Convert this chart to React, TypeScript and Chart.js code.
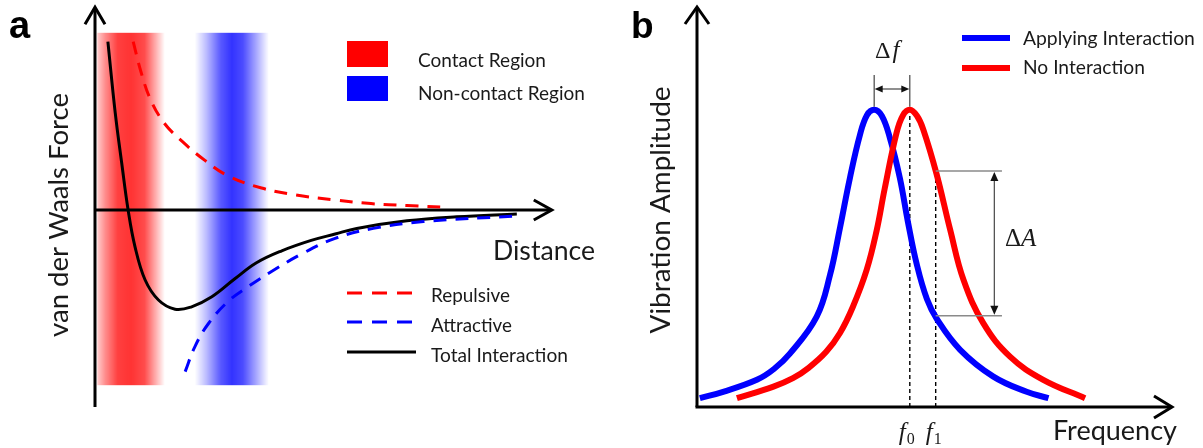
import React, { useEffect, useRef } from "react";
import { Chart, registerables } from "chart.js";
Chart.register(...registerables);

// ---------------- Panel a data (distance vs. van der Waals force, arbitrary units)
const distTotal = [0.28, 0.44, 0.58, 0.72, 0.87, 1.09, 1.38, 1.74, 2.1, 2.54, 3.04, 3.51, 4.06, 4.7, 5.22, 5.69, 6.78, 7.86, 9.17];
const forceTotal = [4.21, 2.43, 1.18, 0, -0.92, -1.75, -2.25, -2.48, -2.42, -2.17, -1.72, -1.32, -1.02, -0.76, -0.6, -0.46, -0.27, -0.17, -0.1];
const distRepulsive = [0.83, 1.0, 1.2, 1.5, 1.89, 2.39, 2.9, 3.62, 4.35, 5.22, 6.0, 6.78, 7.65];
const forceRepulsive = [4.21, 3.45, 2.78, 2.18, 1.72, 1.24, 0.85, 0.55, 0.38, 0.25, 0.16, 0.11, 0.07];
const distAttractive = [1.96, 2.17, 2.46, 2.9, 3.35, 3.82, 4.49, 5.22, 6.05, 7.14, 9.2];
const forceAttractive = [-4.04, -3.42, -2.85, -2.28, -1.9, -1.55, -1.1, -0.71, -0.46, -0.29, -0.15];
const contactRegion = [0.05, 1.52];
const nonContactRegion = [2.17, 3.78];
const regionForceSpan = [-4.38, 4.43];
const axisAForce = [-4.925, 5.07];
const axisADistTip = 9.93;

// ---------------- Panel b data (frequency vs. vibration amplitude, arbitrary units)
const freqApplying = [0.06, 0.55, 1.26, 1.62, 1.96, 2.52, 2.8, 3.01, 3.22, 3.43, 3.58, 3.73, 3.89, 4.06, 4.27, 4.44, 4.63, 4.84, 5.05, 5.54, 6.24, 6.94, 7.4];
const ampApplying = [0.22, 0.38, 0.68, 0.95, 1.34, 2.26, 3.3, 4.48, 5.73, 6.8, 7.3, 7.43, 7.28, 6.73, 5.73, 4.63, 3.55, 2.7, 2.2, 1.43, 0.76, 0.38, 0.22];
const freqNo = [0.84, 1.61, 2.02, 2.35, 2.72, 3.01, 3.28, 3.57, 3.78, 3.95, 4.2, 4.34, 4.48, 4.63, 4.76, 5.04, 5.33, 5.61, 6.03, 6.59, 7.29, 8.17];
const ampNo = [0.22, 0.51, 0.72, 0.98, 1.38, 1.85, 2.5, 3.42, 4.4, 5.45, 6.85, 7.3, 7.43, 7.28, 6.95, 5.84, 4.43, 3.18, 2.09, 1.26, 0.68, 0.22];
const f0 = 4.48;
const f1 = 5.025;
const fPeakApplying = 3.73;
const peakAmp = 7.43;
const ampNoAtF1 = 5.9;
const ampApplyingAtF1 = 2.28;
const deltaFLevel = 7.95;
const deltaFTickTop = 8.3;
const deltaARight = 6.42;
const deltaAArrowX = 6.26;

// ---------------- Labels
const titleA = "a";
const titleB = "b";
const yTitleA = "van der Waals Force";
const xTitleA = "Distance";
const regionLabels = ["Contact Region", "Non-contact Region"];
const curveLabelsA = ["Repulsive", "Attractive", "Total Interaction"];
const yTitleB = "Vibration Amplitude";
const xTitleB = "Frequency";
const curveLabelsB = ["Applying Interaction", "No Interaction"];

const SANS = "Lato, 'Open Sans', sans-serif";
const SERIF = "'Liberation Serif', 'DejaVu Serif', serif";
const BOLD = "'Liberation Sans', Arial, sans-serif";
const RED = "#ff0000";
const BLUE = "#0000ff";

const zip = (xs: number[], ys: number[]) => xs.map((x, i) => ({ x, y: ys[i] }));

function fitFont(ctx: CanvasRenderingContext2D, text: string, width: number, family: string, style = "normal", weight = "normal") {
  ctx.font = `${style} ${weight} 100px ${family}`;
  const w = ctx.measureText(text).width;
  const size = (100 * width) / w;
  ctx.font = `${style} ${weight} ${size.toFixed(2)}px ${family}`;
}

function textFit(ctx: CanvasRenderingContext2D, text: string, x: number, y: number, width: number, family = SANS, color = "#1a1a1a") {
  fitFont(ctx, text, width, family);
  ctx.fillStyle = color;
  ctx.textAlign = "left";
  ctx.textBaseline = "alphabetic";
  ctx.fillText(text, x, y);
}

function rotatedText(ctx: CanvasRenderingContext2D, text: string, x: number, cy: number, width: number) {
  ctx.save();
  ctx.translate(x, cy);
  ctx.rotate(-Math.PI / 2);
  fitFont(ctx, text, width, SANS);
  ctx.fillStyle = "#1a1a1a";
  ctx.textAlign = "center";
  ctx.textBaseline = "alphabetic";
  ctx.fillText(text, 0, 0);
  ctx.restore();
}

function openArrow(ctx: CanvasRenderingContext2D, x: number, y: number, dir: "up" | "right", back: number, side: number) {
  ctx.beginPath();
  if (dir === "up") {
    ctx.moveTo(x - side, y + back);
    ctx.lineTo(x, y);
    ctx.lineTo(x + side, y + back);
  } else {
    ctx.moveTo(x - back, y - side);
    ctx.lineTo(x, y);
    ctx.lineTo(x - back, y + side);
  }
  ctx.stroke();
}

function filledHead(ctx: CanvasRenderingContext2D, x: number, y: number, dx: number, dy: number, len: number, half: number) {
  const px = -dy, py = dx;
  ctx.beginPath();
  ctx.moveTo(x, y);
  ctx.lineTo(x - dx * len + px * half, y - dy * len + py * half);
  ctx.lineTo(x - dx * len - px * half, y - dy * len - py * half);
  ctx.closePath();
  ctx.fill();
}

function band(ctx: CanvasRenderingContext2D, x0: number, x1: number, y0: number, y1: number, rgb: string, stops: number[][]) {
  const g = ctx.createLinearGradient(x0, 0, x1, 0);
  stops.forEach(([o, a]) => g.addColorStop(o, `rgba(${rgb},${a})`));
  ctx.fillStyle = g;
  ctx.fillRect(x0, y0, x1 - x0, y1 - y0);
}

function hLine(ctx: CanvasRenderingContext2D, x0: number, x1: number, y: number, color: string, width: number, dash: number[] = []) {
  ctx.save();
  ctx.strokeStyle = color;
  ctx.lineWidth = width;
  ctx.setLineDash(dash);
  ctx.beginPath();
  ctx.moveTo(x0, y);
  ctx.lineTo(x1, y);
  ctx.stroke();
  ctx.restore();
}

function vLine(ctx: CanvasRenderingContext2D, x: number, y0: number, y1: number, color: string, width: number, dash: number[] = []) {
  ctx.save();
  ctx.strokeStyle = color;
  ctx.lineWidth = width;
  ctx.setLineDash(dash);
  ctx.beginPath();
  ctx.moveTo(x, y0);
  ctx.lineTo(x, y1);
  ctx.stroke();
  ctx.restore();
}

const panelAPlugin = {
  id: "panelA",
  beforeDatasetsDraw(chart: any) {
    const { ctx, scales } = chart;
    const sx = scales.x, sy = scales.y;
    ctx.save();
    const top = sy.getPixelForValue(regionForceSpan[1]);
    const bot = sy.getPixelForValue(regionForceSpan[0]);
    band(ctx, sx.getPixelForValue(contactRegion[0]), sx.getPixelForValue(contactRegion[1]), top, bot, "255,0,0",
      [[0, 0.2], [0.12, 0.45], [0.3, 0.75], [0.5, 0.8], [0.7, 0.7], [0.85, 0.35], [1, 0]]);
    band(ctx, sx.getPixelForValue(nonContactRegion[0]), sx.getPixelForValue(nonContactRegion[1]), top, bot, "0,0,255",
      [[0, 0], [0.15, 0.25], [0.35, 0.65], [0.5, 0.8], [0.65, 0.7], [0.85, 0.3], [1, 0]]);
    // axes
    ctx.strokeStyle = "#000";
    ctx.lineWidth = 3;
    ctx.lineJoin = "miter";
    const x0 = sx.getPixelForValue(0);
    const y0 = sy.getPixelForValue(0);
    const yTip = sy.getPixelForValue(axisAForce[1]);
    const xTip = sx.getPixelForValue(axisADistTip);
    ctx.beginPath();
    ctx.moveTo(x0, sy.getPixelForValue(axisAForce[0]));
    ctx.lineTo(x0, yTip + 1);
    ctx.stroke();
    openArrow(ctx, x0, yTip, "up", 17, 10);
    ctx.beginPath();
    ctx.moveTo(x0, y0);
    ctx.lineTo(xTip - 1, y0);
    ctx.stroke();
    openArrow(ctx, xTip, y0, "right", 18, 10);
    ctx.restore();
  },
  afterDraw(chart: any) {
    const { ctx } = chart;
    ctx.save();
    ctx.font = `bold 38px ${BOLD}`;
    ctx.fillStyle = "#000";
    ctx.textAlign = "left";
    ctx.textBaseline = "alphabetic";
    ctx.fillText(titleA, 9, 38);
    rotatedText(ctx, yTitleA, 68, 215, 244);
    textFit(ctx, xTitleA, 493, 260, 102);
    // region legend
    ctx.fillStyle = RED;
    ctx.fillRect(347, 41, 41, 26);
    ctx.fillStyle = BLUE;
    ctx.fillRect(347, 76, 41, 25);
    textFit(ctx, regionLabels[0], 418, 67, 128);
    textFit(ctx, regionLabels[1], 418, 100, 167);
    // curve legend
    hLine(ctx, 347, 412, 293, RED, 3, [15, 10]);
    hLine(ctx, 347, 412, 322, BLUE, 3, [15, 10]);
    hLine(ctx, 347, 416, 352, "#000", 3);
    textFit(ctx, curveLabelsA[0], 431, 302, 79);
    textFit(ctx, curveLabelsA[1], 431, 332, 81);
    textFit(ctx, curveLabelsA[2], 431, 362, 137);
    ctx.restore();
  },
};

const panelBPlugin = {
  id: "panelB",
  beforeDatasetsDraw(chart: any) {
    const { ctx, scales } = chart;
    const sx = scales.x, sy = scales.y;
    ctx.save();
    const x0 = sx.getPixelForValue(0);
    const y0 = sy.getPixelForValue(0);
    const xTip = sx.getPixelForValue(10);
    const yTip = sy.getPixelForValue(10);
    // dashed guides
    vLine(ctx, sx.getPixelForValue(f0), y0, sy.getPixelForValue(peakAmp) + 4, "#000", 1.4, [4, 3]);
    vLine(ctx, sx.getPixelForValue(f1), y0, sy.getPixelForValue(ampNoAtF1), "#000", 1.4, [4, 3]);
    // axes
    ctx.strokeStyle = "#000";
    ctx.lineWidth = 3;
    ctx.beginPath();
    ctx.moveTo(x0, y0);
    ctx.lineTo(x0, yTip + 1);
    ctx.stroke();
    openArrow(ctx, x0, yTip, "up", 17, 12);
    ctx.beginPath();
    ctx.moveTo(x0 - 1.5, y0);
    ctx.lineTo(xTip - 1, y0);
    ctx.stroke();
    openArrow(ctx, xTip, y0, "right", 18, 11);
    ctx.restore();
  },
  afterDraw(chart: any) {
    const { ctx, scales } = chart;
    const sx = scales.x, sy = scales.y;
    ctx.save();
    ctx.font = `bold 37px ${BOLD}`;
    ctx.fillStyle = "#000";
    ctx.textAlign = "left";
    ctx.textBaseline = "alphabetic";
    ctx.fillText(titleB, 31, 38);
    rotatedText(ctx, yTitleB, 70, 210, 247);
    textFit(ctx, xTitleB, 453, 440, 124);
    // legend
    hLine(ctx, 362, 410, 38, BLUE, 6);
    hLine(ctx, 362, 410, 68, RED, 6);
    textFit(ctx, curveLabelsB[0], 423, 45, 172);
    textFit(ctx, curveLabelsB[1], 423, 74, 122);

    // delta f annotation
    const xa = sx.getPixelForValue(fPeakApplying);
    const xb = sx.getPixelForValue(f0);
    const yArr = sy.getPixelForValue(deltaFLevel);
    const yTick = sy.getPixelForValue(deltaFTickTop);
    const yPeak = sy.getPixelForValue(peakAmp) - 3;
    vLine(ctx, xa, yTick, yPeak, "#444", 1.2);
    vLine(ctx, xb, yTick, yPeak, "#444", 1.2);
    hLine(ctx, xa + 6, xb - 6, yArr, "#444", 1.2);
    ctx.fillStyle = "#111";
    filledHead(ctx, xa + 0.5, yArr, -1, 0, 8, 3.5);
    filledHead(ctx, xb - 0.5, yArr, 1, 0, 8, 3.5);
    ctx.fillStyle = "#1a1a1a";
    ctx.font = `24px ${SERIF}`;
    ctx.fillText("Δ", 275, 58);
    const wD = ctx.measureText("Δ").width;
    ctx.font = `italic 25px ${SERIF}`;
    ctx.fillText("f", 275 + wD + 2, 58);

    // delta A annotation
    const xf1 = sx.getPixelForValue(f1);
    const xr = sx.getPixelForValue(deltaARight);
    const xarr = sx.getPixelForValue(deltaAArrowX);
    const yTop = sy.getPixelForValue(ampNoAtF1);
    const yBot = sy.getPixelForValue(ampApplyingAtF1);
    hLine(ctx, xf1, xr, yTop, "#8a8a8a", 1.4);
    hLine(ctx, xf1, xr, yBot, "#8a8a8a", 1.4);
    vLine(ctx, xarr, yTop + 6, yBot - 6, "#555", 1.3);
    ctx.fillStyle = "#111";
    filledHead(ctx, xarr, yTop + 1, 0, -1, 9, 4);
    filledHead(ctx, xarr, yBot - 1, 0, 1, 9, 4);
    ctx.fillStyle = "#1a1a1a";
    ctx.font = `25px ${SERIF}`;
    ctx.fillText("Δ", 405, 246);
    const wD2 = ctx.measureText("Δ").width;
    ctx.font = `italic 25px ${SERIF}`;
    ctx.fillText("A", 405 + wD2, 246);

    // f0, f1 tick labels
    const tickLabel = (x: number, sub: string) => {
      ctx.font = `italic 25px ${SERIF}`;
      const wf = ctx.measureText("f").width;
      ctx.fillText("f", x, 440);
      ctx.font = `16px ${SERIF}`;
      ctx.fillText(sub, x + wf + 1, 444);
    };
    tickLabel(xb - 11, "0");
    tickLabel(xf1 - 10, "1");
    ctx.restore();
  },
};

function makeA(canvas: HTMLCanvasElement) {
  const common = { showLine: true, pointRadius: 0, borderWidth: 3, tension: 0.4, fill: false, clip: false };
  return new Chart(canvas, {
    type: "scatter",
    data: {
      datasets: [
        { label: curveLabelsA[0], data: zip(distRepulsive, forceRepulsive), borderColor: RED, borderDash: [13, 9], ...common } as any,
        { label: curveLabelsA[1], data: zip(distAttractive, forceAttractive), borderColor: BLUE, borderDash: [13, 9], ...common } as any,
        { label: curveLabelsA[2], data: zip(distTotal, forceTotal), borderColor: "#000", ...common } as any,
      ],
    },
    options: {
      responsive: false,
      animation: false,
      devicePixelRatio: 1,
      events: [],
      layout: { padding: { left: 95, right: 45, top: 10, bottom: 38 } },
      scales: {
        x: { type: "linear", min: 0, max: 10, display: false },
        y: { type: "linear", min: -5, max: 5, display: false },
      },
      plugins: { legend: { display: false }, tooltip: { enabled: false }, title: { display: false } },
    },
    plugins: [panelAPlugin],
  });
}

function makeB(canvas: HTMLCanvasElement) {
  const common = { showLine: true, pointRadius: 0, borderWidth: 6, tension: 0.4, fill: false, clip: false };
  return new Chart(canvas, {
    type: "scatter",
    data: {
      datasets: [
        { label: curveLabelsB[1], data: zip(freqNo, ampNo), borderColor: RED, ...common } as any,
        { label: curveLabelsB[0], data: zip(freqApplying, ampApplying), borderColor: BLUE, ...common } as any,
      ],
    },
    options: {
      responsive: false,
      animation: false,
      devicePixelRatio: 1,
      events: [],
      layout: { padding: { left: 97, right: 31, top: 7, bottom: 41 } },
      scales: {
        x: { type: "linear", min: 0, max: 10, display: false },
        y: { type: "linear", min: 0, max: 10, display: false },
      },
      plugins: { legend: { display: false }, tooltip: { enabled: false }, title: { display: false } },
    },
    plugins: [panelBPlugin],
  });
}

export default function App() {
  const refA = useRef<HTMLCanvasElement>(null);
  const refB = useRef<HTMLCanvasElement>(null);
  useEffect(() => {
    if (!refA.current || !refB.current) return;
    const a = makeA(refA.current);
    const b = makeB(refB.current);
    let alive = true;
    const fonts = (document as any).fonts;
    if (fonts && fonts.load) {
      Promise.all([
        fonts.load("20px Lato"),
        fonts.load("bold 20px 'Liberation Sans'"),
        fonts.load("20px 'Liberation Serif'"),
        fonts.load("italic 20px 'Liberation Serif'"),
      ])
        .then(() => {
          if (alive) {
            a.draw();
            b.draw();
          }
        })
        .catch(() => {});
    }
    return () => {
      alive = false;
      a.destroy();
      b.destroy();
    };
  }, []);
  return (
    <div style={{ position: "absolute", left: 0, top: 0, width: 1203, height: 448, background: "#fff" }}>
      <canvas ref={refA} width={600} height={448} style={{ position: "absolute", left: 0, top: 0, width: 600, height: 448 }} />
      <canvas ref={refB} width={603} height={448} style={{ position: "absolute", left: 600, top: 0, width: 603, height: 448 }} />
    </div>
  );
}
